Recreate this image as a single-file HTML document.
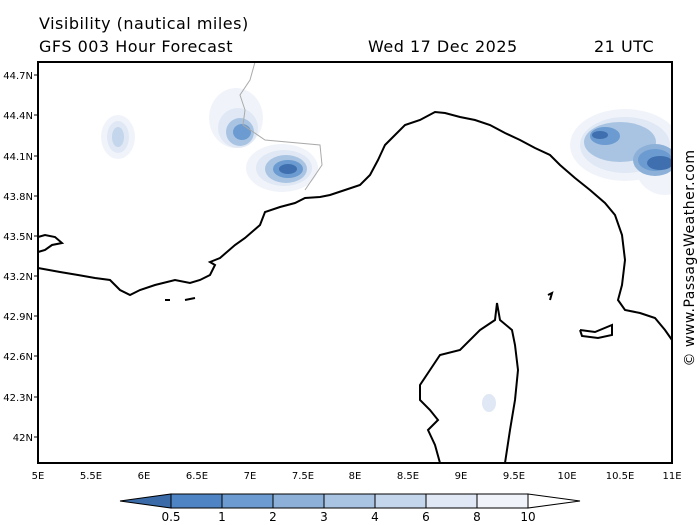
<!DOCTYPE html><html><head><style>body{margin:0;background:#fff}svg{display:block}text{font-family:"DejaVu Sans","Liberation Sans",sans-serif}</style></head><body>
<svg width="700" height="525" viewBox="0 0 700 525" xmlns="http://www.w3.org/2000/svg">
<rect width="700" height="525" fill="#fff"/>
<text x="39" y="29" font-size="16" fill="#000" letter-spacing="0.5">Visibility (nautical miles)</text>
<text x="39" y="52" font-size="16" fill="#000" letter-spacing="0.5">GFS 003 Hour Forecast</text>
<text x="368" y="52" font-size="16" fill="#000" letter-spacing="0.5">Wed 17 Dec 2025</text>
<text x="594" y="52" font-size="16" fill="#000" letter-spacing="0.5">21 UTC</text>
<g>
<!-- blob left -->
<ellipse cx="118" cy="137" rx="17" ry="22" fill="#f0f4fa"/><ellipse cx="118" cy="137" rx="11" ry="16" fill="#dfe8f4"/><ellipse cx="118" cy="137" rx="6" ry="10" fill="#c4d6eb"/>
<!-- blob center -->
<ellipse cx="236" cy="118" rx="27" ry="30" fill="#f0f4fa"/>
<ellipse cx="282" cy="168" rx="36" ry="24" fill="#f0f4fa"/>
<ellipse cx="238" cy="128" rx="20" ry="20" fill="#dfe8f4"/>
<ellipse cx="284" cy="168" rx="28" ry="18" fill="#dfe8f4"/>
<ellipse cx="240" cy="132" rx="14" ry="14" fill="#a9c4e2"/>
<ellipse cx="286" cy="169" rx="21" ry="14" fill="#a9c4e2"/>
<ellipse cx="242" cy="132" rx="9" ry="8" fill="#6b9bd0"/>
<ellipse cx="288" cy="169" rx="15" ry="9" fill="#6b9bd0"/>
<ellipse cx="288" cy="169" rx="9" ry="5" fill="#3f6fae"/>
<!-- blob right -->
<ellipse cx="625" cy="145" rx="55" ry="36" fill="#f0f4fa"/>
<ellipse cx="665" cy="165" rx="30" ry="30" fill="#f0f4fa"/>
<ellipse cx="625" cy="145" rx="45" ry="28" fill="#dfe8f4"/>
<ellipse cx="620" cy="142" rx="36" ry="20" fill="#a9c4e2"/>
<ellipse cx="655" cy="160" rx="22" ry="16" fill="#8cb0d8"/>
<ellipse cx="605" cy="136" rx="15" ry="9" fill="#6b9bd0"/>
<ellipse cx="655" cy="160" rx="17" ry="11" fill="#6b9bd0"/>
<ellipse cx="600" cy="135" rx="8" ry="4" fill="#3f6fae"/>
<ellipse cx="660" cy="163" rx="13" ry="7" fill="#3f6fae"/>
<ellipse cx="489" cy="403" rx="7" ry="9" fill="#dfe8f4"/>
</g>
<rect x="672" y="60" width="28" height="410" fill="#fff"/>
<g fill="none" stroke="#000" stroke-width="2">
<polyline points="38,237 45,235 55,237 62,243 52,245 45,250 38,252"/>
<polyline points="38,268 60,272 78,275 95,278 110,280 120,290 130,295 140,290 155,285 175,280 190,283 200,280 210,275 215,265 210,262 220,258 235,245 245,238 260,225 265,212 280,207 295,203 305,198 320,197 330,195 345,190 360,185 370,175 378,160 385,145 395,135 405,125 420,120 435,112 445,113 460,117 475,120 490,125 505,133 520,140 535,148 550,155 560,165 575,178 590,190 605,203 615,215 622,235 625,260 622,285 618,300 625,310 640,313 655,318 665,330 672,340"/>
<polyline points="505,463 510,430 515,400 518,370 515,345 512,330 500,320 497,303 495,320 480,330 460,350 440,355 430,370 420,385 420,400 430,410 438,420 428,430 435,445 440,463"/>
<polyline points="580,330 595,332 612,325 612,335 598,338 582,336 580,330"/>
<polyline points="548,295 552,293 550,300"/>
<polyline points="165,300 170,300"/><polyline points="185,300 195,298"/>
</g>
<polyline points="255,62 250,80 240,95 245,110 243,125 265,140 320,145 322,165 305,190" fill="none" stroke="#aaa" stroke-width="1"/>
<rect x="38" y="62" width="634" height="401" fill="none" stroke="#000" stroke-width="2"/>
<g font-size="10" fill="#000" text-anchor="end">
<text x="33" y="79">44.7N</text><text x="33" y="119">44.4N</text><text x="33" y="160">44.1N</text><text x="33" y="200">43.8N</text><text x="33" y="240">43.5N</text><text x="33" y="280">43.2N</text><text x="33" y="320">42.9N</text><text x="33" y="360">42.6N</text><text x="33" y="401">42.3N</text><text x="33" y="441">42N</text>
</g>
<g stroke="#000"><line x1="34" y1="75" x2="38" y2="75"/><line x1="34" y1="115" x2="38" y2="115"/><line x1="34" y1="156" x2="38" y2="156"/><line x1="34" y1="196" x2="38" y2="196"/><line x1="34" y1="236" x2="38" y2="236"/><line x1="34" y1="276" x2="38" y2="276"/><line x1="34" y1="316" x2="38" y2="316"/><line x1="34" y1="356" x2="38" y2="356"/><line x1="34" y1="397" x2="38" y2="397"/><line x1="34" y1="437" x2="38" y2="437"/></g>
<g font-size="10" fill="#000" text-anchor="middle">
<text x="38" y="479">5E</text><text x="91" y="479">5.5E</text><text x="144" y="479">6E</text><text x="197" y="479">6.5E</text><text x="250" y="479">7E</text><text x="303" y="479">7.5E</text><text x="355" y="479">8E</text><text x="408" y="479">8.5E</text><text x="461" y="479">9E</text><text x="514" y="479">9.5E</text><text x="567" y="479">10E</text><text x="620" y="479">10.5E</text><text x="672" y="479">11E</text>
</g>
<text transform="translate(694,258) rotate(-90)" font-size="14" fill="#000" text-anchor="middle" letter-spacing="0.5">© www.PassageWeather.com</text>
<g stroke="#000" stroke-width="1">
<polygon points="120,501 171,494 171,508" fill="#3a6aa8"/>
<rect x="171" y="494" width="51" height="14" fill="#4f84c4"/>
<rect x="222" y="494" width="51" height="14" fill="#6b9bd0"/>
<rect x="273" y="494" width="51" height="14" fill="#8cb0d8"/>
<rect x="324" y="494" width="51" height="14" fill="#a9c4e2"/>
<rect x="375" y="494" width="51" height="14" fill="#c4d6eb"/>
<rect x="426" y="494" width="51" height="14" fill="#dfe8f4"/>
<rect x="477" y="494" width="51" height="14" fill="#f0f4fa"/>
<polygon points="528,494 580,501 528,508" fill="#fff"/>
</g>
<g font-size="12" fill="#000" text-anchor="middle">
<text x="171" y="521">0.5</text><text x="222" y="521">1</text><text x="273" y="521">2</text><text x="324" y="521">3</text><text x="375" y="521">4</text><text x="426" y="521">6</text><text x="477" y="521">8</text><text x="528" y="521">10</text>
</g>
</svg></body></html>
